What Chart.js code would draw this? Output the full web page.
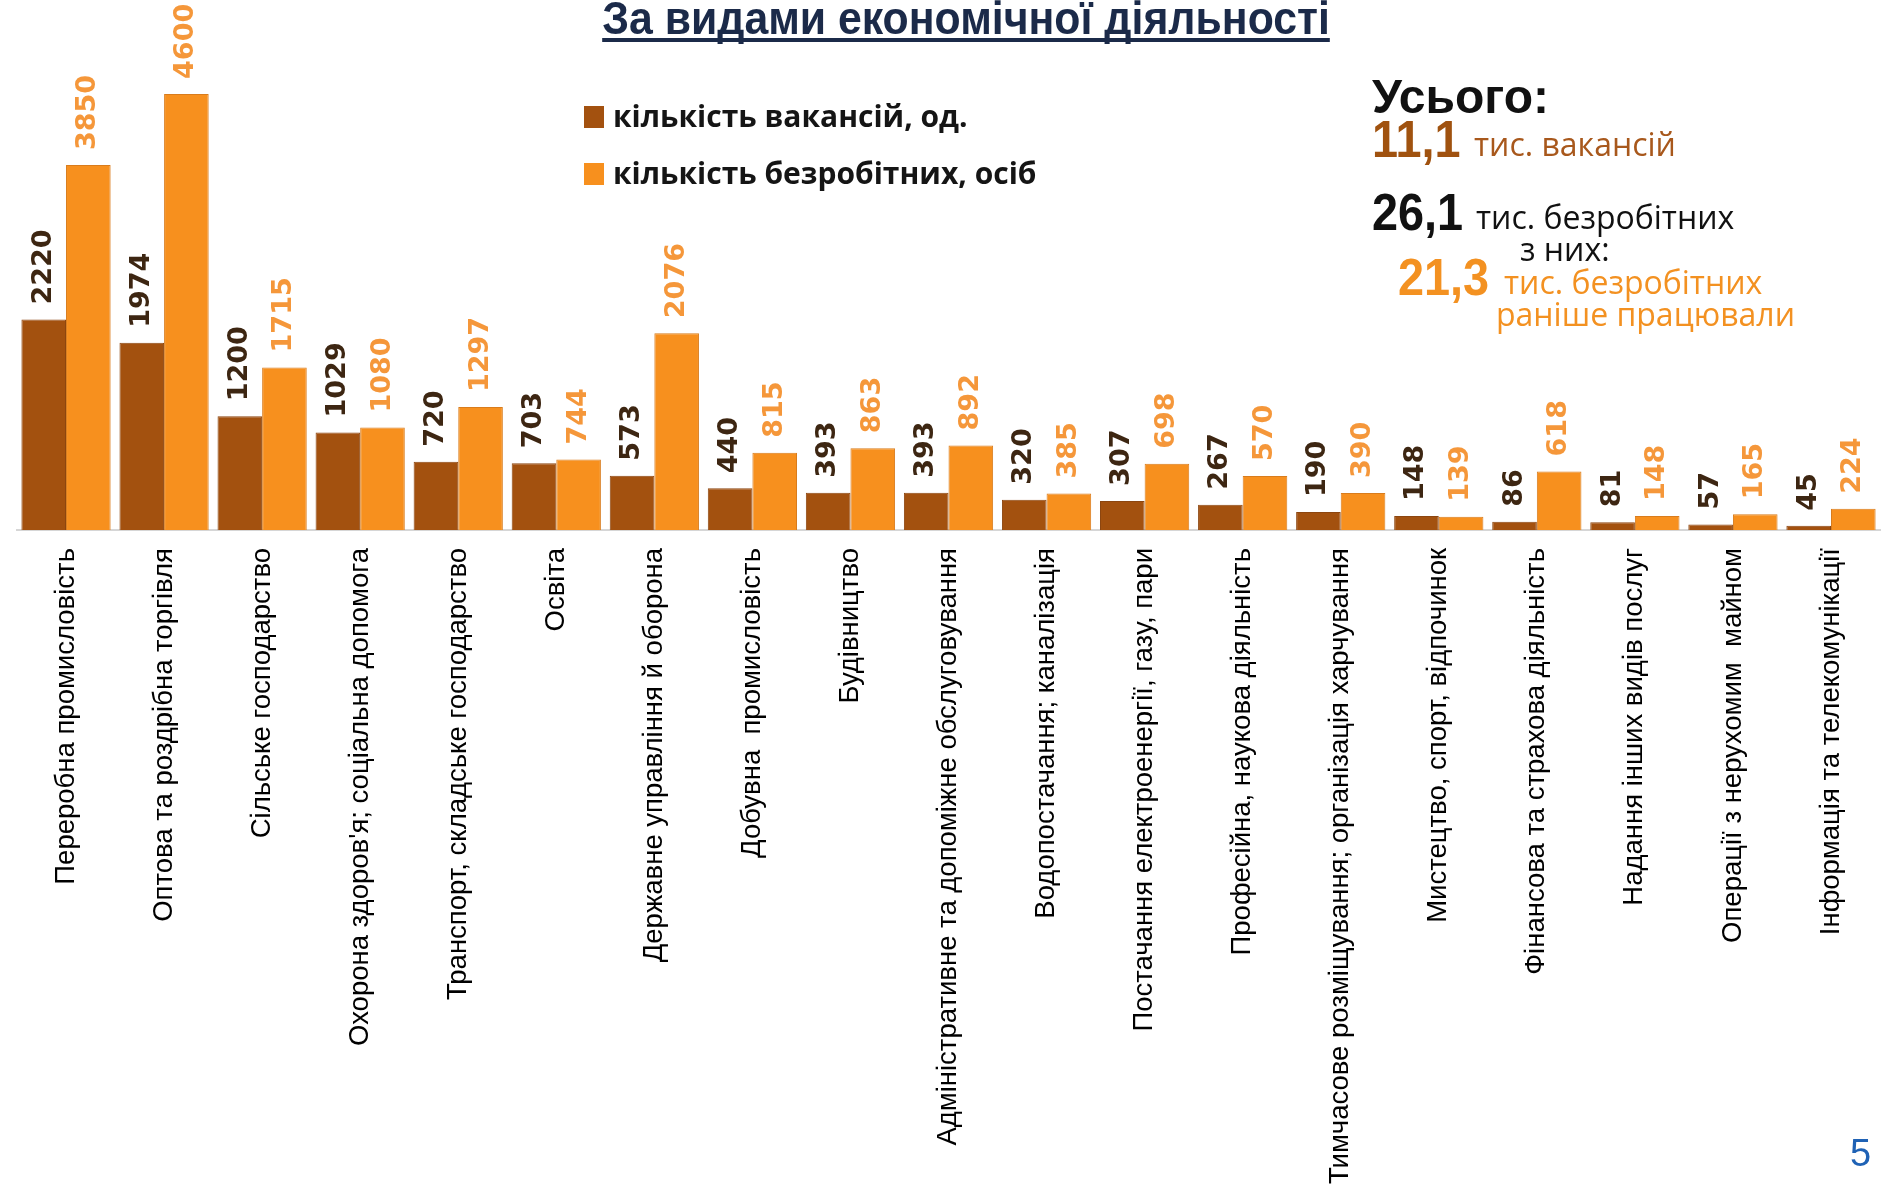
<!DOCTYPE html>
<html>
<head>
<meta charset="utf-8">
<title>За видами економічної діяльності</title>
<script src="https://cdn.jsdelivr.net/npm/chart.js@4.4.0/dist/chart.umd.min.js"></script>
<style>
    html, body { margin: 0; padding: 0; background: #fff; }
    #wrap { position: relative; width: 1882px; height: 1190px; }
</style>
</head>
<body>
<div id="wrap"><canvas id="activityChart" width="1882" height="1190"></canvas></div>
<script>
const categories = [
    'Переробна промисловість',
    'Оптова та роздрібна торгівля',
    'Сільське господарство',
    'Охорона здоров\'я; соціальна допомога',
    'Транспорт, складське господарство',
    'Освіта',
    'Державне управління й оборона',
    'Добувна  промисловість',
    'Будівництво',
    'Адміністративне та допоміжне обслуговування',
    'Водопостачання; каналізація',
    'Постачання електроенергії, газу, пари',
    'Професійна, наукова діяльність',
    'Тимчасове розміщування; організація харчування',
    'Мистецтво, спорт, відпочинок',
    'Фінансова та страхова діяльність',
    'Надання інших видів послуг',
    'Операції з нерухомим  майном',
    'Інформація та телекомунікації'
];
const vacancies = [2220, 1974, 1200, 1029, 720, 703, 573, 440, 393, 393, 320, 307, 267, 190, 148, 86, 81, 57, 45];
const unemployed = [3850, 4600, 1715, 1080, 1297, 744, 2076, 815, 863, 892, 385, 698, 570, 390, 139, 618, 148, 165, 224];
const seriesNames = ['кількість вакансій, од.', 'кількість безробітних, осіб'];

const brown = '#a3510f';
const orange = '#f7901e';
const labelColors = ['#3d2612', '#f5973a'];

// rotated value labels above the bars
const valueLabels = {
    id: 'valueLabels',
    afterDatasetsDraw(chart) {
        const ctx = chart.ctx;
        chart.data.datasets.forEach((ds, i) => {
            const meta = chart.getDatasetMeta(i);
            meta.data.forEach((bar, j) => {
                ctx.save();
                ctx.translate(bar.x, bar.y - 15);
                ctx.rotate(-Math.PI / 2);
                ctx.font = 'bold 27px "DejaVu Sans"';
                ctx.fillStyle = labelColors[i];
                ctx.textAlign = 'left';
                ctx.textBaseline = 'middle';
                ctx.fillText(String(ds.data[j]), 0, 0);
                ctx.restore();
            });
        });
    }
};

function put(ctx, text, x, y, font, color, sx) {
    ctx.save();
    ctx.font = font;
    ctx.fillStyle = color;
    ctx.textAlign = 'left';
    ctx.textBaseline = 'alphabetic';
    ctx.translate(x, y);
    ctx.scale(sx || 1, 1);
    ctx.fillText(text, 0, 0);
    ctx.restore();
}

// title, legend and totals block
const slideText = {
    id: 'slideText',
    afterDraw(chart) {
        const ctx = chart.ctx;
        const navy = '#1b2a49';
        const title = 'За видами економічної діяльності';
        const titleFont = 'bold 47px "Liberation Sans", Arial';

        // title with underline
        ctx.save();
        ctx.font = titleFont;
        const tw = ctx.measureText(title).width * 0.91;
        ctx.restore();
        const tx = 966 - tw / 2;
        put(ctx, title, tx, 34, titleFont, navy, 0.91);
        ctx.fillStyle = navy;
        ctx.fillRect(tx, 38, tw, 4);

        // legend
        const legendFont = 'bold 30px "Open Sans"';
        ctx.fillStyle = brown;
        ctx.fillRect(584, 106, 20, 22);
        put(ctx, seriesNames[0], 613, 127, legendFont, '#151515');
        ctx.fillStyle = orange;
        ctx.fillRect(584, 163, 20, 22);
        put(ctx, seriesNames[1], 613, 184, legendFont, '#151515');

        // totals
        const big = 'bold 52px "Liberation Sans", Arial';
        const small = '32px "Open Sans"';
        put(ctx, 'Усього:', 1372, 113, 'bold 48px "Liberation Sans", Arial', '#111', 1.0);
        put(ctx, '11,1', 1372, 157, big, '#a0520f', 0.9);
        put(ctx, 'тис. вакансій', 1474, 156, small, '#a8581c');
        put(ctx, '26,1', 1372, 230, big, '#111', 0.9);
        put(ctx, 'тис. безробітних', 1476, 229, small, '#111');
        put(ctx, 'з них:', 1520, 261, small, '#111');
        put(ctx, '21,3', 1398, 295, big, '#f39121', 0.9);
        put(ctx, 'тис. безробітних', 1504, 294, small, '#f39121');
        put(ctx, 'раніше працювали', 1496, 326, small, '#f39121');

        // slide number
        put(ctx, '5', 1850, 1166, '38px "Liberation Sans", Arial', '#1f62b5');
    }
};

const chartCtx = document.getElementById('activityChart');
new Chart(chartCtx, {
    type: 'bar',
    data: {
        labels: categories,
        datasets: [{
            label: seriesNames[0],
            data: vacancies,
            backgroundColor: brown,
            borderColor: '#8c4610',
            borderWidth: 1,
            categoryPercentage: 0.91,
            barPercentage: 1.0
        }, {
            label: seriesNames[1],
            data: unemployed,
            backgroundColor: orange,
            borderColor: '#d97c1c',
            borderWidth: 1,
            categoryPercentage: 0.91,
            barPercentage: 1.0
        }]
    },
    options: {
        responsive: false,
        animation: false,
        devicePixelRatio: 1,
        layout: { padding: { top: 56, left: 17, right: 0, bottom: 0 } },
        plugins: {
            legend: { display: false },
            tooltip: { enabled: false }
        },
        scales: {
            x: {
                grid: { display: false, drawTicks: false },
                border: { display: true, color: '#d6d6d6', width: 2 },
                ticks: {
                    autoSkip: false,
                    minRotation: 90,
                    maxRotation: 90,
                    padding: 18,
                    color: '#000',
                    font: { family: '"Liberation Sans", Arial', size: 27.5 }
                },
                afterFit: (axis) => { axis.height = 660; }
            },
            y: {
                display: false,
                min: 0,
                max: 5000
            }
        }
    },
    plugins: [valueLabels, slideText]
});
</script>
</body>
</html>
